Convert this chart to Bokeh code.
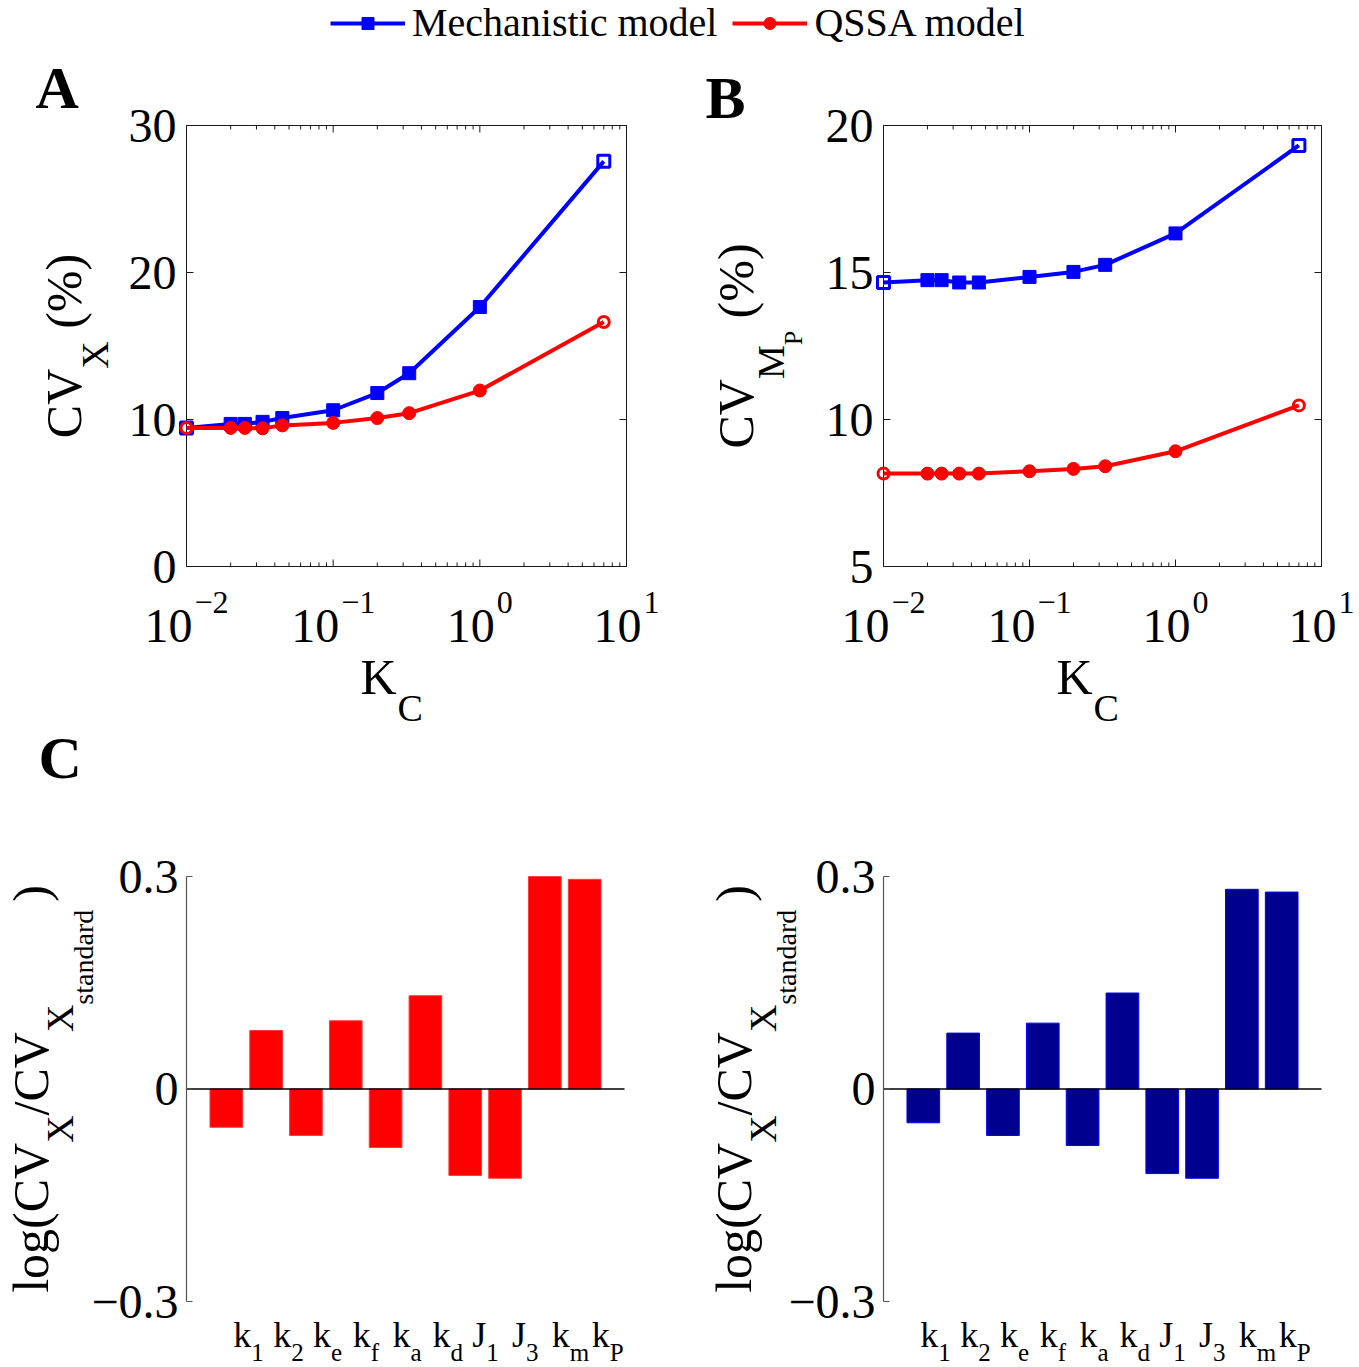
import math
from bokeh.plotting import figure
from bokeh.models import (Legend, LegendItem, Range1d, LogScale, LinearScale,
                          ColumnDataSource)
from bokeh.core.properties import value
from bokeh.embed import file_html
from bokeh.resources import INLINE

# ---------------- data ----------------
KC = [0.01, 0.02, 0.025, 0.033, 0.045, 0.1, 0.2, 0.33, 1.0, 7.0]
CVX_MECH = [9.43, 9.7, 9.7, 9.84, 10.1, 10.63, 11.8, 13.15, 17.65, 27.56]
CVX_QSSA = [9.43, 9.43, 9.43, 9.4, 9.6, 9.77, 10.1, 10.43, 11.97, 16.63]
CVMP_MECH = [14.66, 14.74, 14.74, 14.66, 14.66, 14.85, 15.02, 15.26, 16.33, 19.32]
CVMP_QSSA = [8.16, 8.16, 8.16, 8.16, 8.16, 8.24, 8.32, 8.41, 8.92, 10.48]

A_YTICKS = [0, 10, 20, 30]
B_YTICKS = [5, 10, 15, 20]
X_DECADES = [0.01, 0.1, 1, 10]
X_EXPONENTS = ["\u22122", "\u22121", "0", "1"]

PARAM_MAIN = ["k", "k", "k", "k", "k", "k", "J", "J", "k", "k"]
PARAM_SUB = ["1", "2", "e", "f", "a", "d", "1", "3", "m", "P"]
SENS_QSSA = [-0.054, 0.0826, -0.0656, 0.0963, -0.0826, 0.1317, -0.122, -0.126, 0.2999, 0.296]
SENS_MECH = [-0.0477, 0.0789, -0.0656, 0.093, -0.0798, 0.1355, -0.1194, -0.126, 0.2819, 0.278]
BAR_YTICKS = [-0.3, 0, 0.3]
BAR_YLABELS = ["\u22120.3", "0", "0.3"]

# ---------------- style / layout constants ----------------
W, H = 1359, 1367
BLUE = "#0000FF"
RED = "#FF0000"
NAVY = "#00008F"
FONT = "Liberation Serif"
AXC = "#1a1a1a"
MID = 0.3375  # distance (em) from alphabetic baseline to the 'middle' baseline
# panel plot rectangles on the page: (left, right, top, bottom) in pixels
FR_A = (186, 626, 125, 566)
FR_B = (883, 1321, 125, 566)
FR_C = (186, 624, 876, 1301)
FR_D = (883, 1321, 876, 1301)

# Times / Liberation Serif advance widths (1/1000 em)
WID = {'C': 667, 'V': 722, 'X': 722, 'K': 722, 'M': 889, 'P': 556, ' ': 250, '(': 333,
       '%': 833, ')': 333, 'l': 278, 'o': 500, 'g': 500, '/': 278, 's': 389, 't': 278,
       'a': 444, 'n': 500, 'd': 500, 'r': 333, '.': 250, '\u2212': 564, 'k': 500,
       'e': 444, 'f': 333, 'm': 778, 'J': 389}


def tw(s, size):
    return sum(WID.get(c, 500) for c in s) * size / 1000.0


def lin_range(v0, v1, p0, p1, total):
    s = (p1 - p0) / (v1 - v0)
    return Range1d(v0 - p0 / s, v0 + (total - p0) / s)


def log_range(v0, v1, p0, p1, total):
    l0, l1 = math.log10(v0), math.log10(v1)
    s = (p1 - p0) / (l1 - l0)
    return Range1d(10 ** (l0 - p0 / s), 10 ** (l0 + (total - p0) / s))


p = figure(width=W, height=H, x_range=Range1d(0, W), y_range=Range1d(0, H),
           output_backend="svg", toolbar_location=None, min_border=0,
           x_axis_location=None, y_axis_location=None)
p.outline_line_color = None
p.grid.visible = False
p.background_fill_color = "white"


def txt(xs, ys, texts, size, xr, yr, dx=0.0, dy=0.0, align="left",
        baseline="alphabetic", angle=0.0, bold=False):
    n = len(texts)
    dxs = list(dx) if isinstance(dx, (list, tuple)) else [dx] * n
    dys = list(dy) if isinstance(dy, (list, tuple)) else [dy] * n
    if baseline == "alphabetic":
        # place via the 'middle' baseline, shifted so the glyph baseline lands on the anchor
        baseline = "middle"
        sx = MID * size * math.sin(angle)
        sy = MID * size * math.cos(angle)
        dxs = [d - sx for d in dxs]
        dys = [d - sy for d in dys]
    src = ColumnDataSource(dict(x=list(xs), y=list(ys), t=list(texts), dx=dxs, dy=dys))
    p.text(x="x", y="y", text="t", x_offset="dx", y_offset="dy", source=src,
           text_font=value(FONT), text_font_size=value(f"{size}px"),
           text_align=align, text_baseline=baseline, angle=angle,
           text_font_style="bold" if bold else "normal", text_color="black",
           x_range_name=xr, y_range_name=yr)


def rotated_label(x, y, xr, yr, dx_base, parts):
    total = sum(g + tw(t, s) for t, s, d, g in parts)
    cur = -total / 2.0
    for t, s, d, g in parts:
        cur += g
        txt([x], [y], [t], s, xr, yr, dx=dx_base + d, dy=-cur, angle=math.pi / 2)
        cur += tw(t, s)


def ticks(xs, ys, angle, length, xr, yr, color=AXC):
    p.ray(x=list(xs), y=list(ys), length=length, length_units="screen", angle=angle,
          line_color=color, line_width=1, x_range_name=xr, y_range_name=yr)


def line_panel(key, frame, yticks, mech, qssa, letter, letter_off, ylab_parts, ylab_dx):
    L, R, T, B = frame
    xr, yr = key + "x", key + "y"
    xlo, xhi = X_DECADES[0], X_DECADES[-1]
    ylo, yhi = yticks[0], yticks[-1]
    p.extra_x_ranges[xr] = log_range(xlo, xhi, L, R, W)
    p.extra_x_scales[xr] = LogScale()
    p.extra_y_ranges[yr] = lin_range(ylo, yhi, H - B, H - T, H)
    p.extra_y_scales[yr] = LinearScale()

    # box and inward ticks
    p.quad(left=[xlo], right=[xhi], bottom=[ylo], top=[yhi], fill_color=None,
           line_color=AXC, line_width=1, x_range_name=xr, y_range_name=yr)
    ticks([xlo] * len(yticks), yticks, 0, 7, xr, yr)
    ticks([xhi] * len(yticks), yticks, math.pi, 7, xr, yr)
    ticks(X_DECADES, [ylo] * len(X_DECADES), math.pi / 2, 7, xr, yr)
    ticks(X_DECADES, [yhi] * len(X_DECADES), -math.pi / 2, 7, xr, yr)
    minors = [m * d for d in X_DECADES[:-1] for m in range(2, 10)]
    ticks(minors, [ylo] * len(minors), math.pi / 2, 4, xr, yr)
    ticks(minors, [yhi] * len(minors), -math.pi / 2, 4, xr, yr)

    # mechanistic (blue squares)
    ml = p.line(KC, mech, line_color=BLUE, line_width=4, x_range_name=xr, y_range_name=yr)
    ms = p.scatter(KC[1:-1], mech[1:-1], marker="square", size=13, fill_color=BLUE,
                   line_color=BLUE, x_range_name=xr, y_range_name=yr)
    p.scatter([KC[0], KC[-1]], [mech[0], mech[-1]], marker="square", size=12,
              fill_color=None, line_color=BLUE, line_width=3, x_range_name=xr, y_range_name=yr)
    # QSSA (red circles)
    ql = p.line(KC, qssa, line_color=RED, line_width=4, x_range_name=xr, y_range_name=yr)
    qs = p.scatter(KC[1:-1], qssa[1:-1], marker="circle", size=13, fill_color=RED,
                   line_color=RED, x_range_name=xr, y_range_name=yr)
    p.scatter([KC[0], KC[-1]], [qssa[0], qssa[-1]], marker="circle", size=11,
              fill_color=None, line_color=RED, line_width=3, x_range_name=xr, y_range_name=yr)

    # y tick labels
    txt([xlo] * len(yticks), yticks, [str(t) for t in yticks], 48, xr, yr, dx=-10,
        align="right", baseline="middle")
    # x tick labels 10^n
    w10 = tw("10", 48)
    dx_main, dx_exp = [], []
    for e in X_EXPONENTS:
        total = w10 + tw(e, 32) + 2
        dx_main.append(-total / 2 + w10)
        dx_exp.append(-total / 2 + w10 + 2)
    txt(X_DECADES, [ylo] * 4, ["10"] * 4, 48, xr, yr, dx=dx_main, dy=76, align="right")
    txt(X_DECADES, [ylo] * 4, X_EXPONENTS, 32, xr, yr, dx=dx_exp, dy=47)
    # x label K_C
    xc = math.sqrt(xlo * xhi)
    txt([xc], [ylo], ["K"], 50, xr, yr, dx=-46, dy=127)
    txt([xc], [ylo], ["C"], 38, xr, yr, dx=-46 + tw("K", 50) + 1, dy=154)
    # y label
    rotated_label(xlo, (ylo + yhi) / 2.0, xr, yr, ylab_dx, ylab_parts)
    # panel letter
    txt([xlo], [yhi], [letter], 60, xr, yr, dx=letter_off[0], dy=letter_off[1], bold=True)
    return ml, ms, ql, qs


def bar_panel(key, frame, vals, fill, edge, lab_dx, ylab_dx, letter=None):
    L, R, T, B = frame
    xr, yr = key + "x", key + "y"
    n = len(vals)
    pos = list(range(1, n + 1))
    xlo, xhi = 0, n + 1
    ylo, yhi = BAR_YTICKS[0], BAR_YTICKS[-1]
    p.extra_x_ranges[xr] = lin_range(xlo, xhi, L, R, W)
    p.extra_x_scales[xr] = LinearScale()
    p.extra_y_ranges[yr] = lin_range(ylo, yhi, H - B, H - T, H)
    p.extra_y_scales[yr] = LinearScale()

    p.vbar(x=pos, top=vals, bottom=0, width=0.82, fill_color=fill, line_color=edge,
           line_width=1, x_range_name=xr, y_range_name=yr)
    p.line([xlo, xhi], [0, 0], line_color="black", line_width=1.5,
           x_range_name=xr, y_range_name=yr)
    p.line([xlo, xlo], [ylo, yhi], line_color="#555555", line_width=1.2,
           x_range_name=xr, y_range_name=yr)
    ticks([xlo] * len(BAR_YTICKS), BAR_YTICKS, 0, 6, xr, yr, color="#555555")
    txt([xlo] * len(BAR_YTICKS), BAR_YTICKS, BAR_YLABELS, 48, xr, yr, dx=-8,
        align="right", baseline="middle")

    txt(pos, [ylo] * n, PARAM_MAIN, 36, xr, yr, dx=lab_dx, dy=46)
    txt(pos, [ylo] * n, PARAM_SUB, 25, xr, yr,
        dx=[lab_dx + tw(m, 36) for m in PARAM_MAIN], dy=59)

    parts = [("log(CV", 50, 0, 0), ("X", 38, 25, 0), ("/CV", 50, 0, 0), ("X", 38, 25, 0),
             ("standard", 28, 45, 0), (")", 50, 0, 8)]
    rotated_label(xlo, (ylo + yhi) / 2.0, xr, yr, ylab_dx, parts)
    if letter:
        txt([xlo], [yhi], [letter], 60, xr, yr, dx=-148, dy=-98, bold=True)


rA = line_panel("a", FR_A, A_YTICKS, CVX_MECH, CVX_QSSA, "A", (-151, -17),
                [("CV", 50, 0, 0), ("X", 38, 27, 0), ("(%)", 50, 0, 12.5)], -106)
line_panel("b", FR_B, B_YTICKS, CVMP_MECH, CVMP_QSSA, "B", (-178, -7),
           [("CV", 50, 0, 0), ("M", 38, 31, 0), ("P", 26, 50, 0), ("(%)", 50, 0, 12.5)],
           -131)
bar_panel("c", FR_C, SENS_QSSA, RED, "#ff3a3a", 7, -139, letter="C")
bar_panel("d", FR_D, SENS_MECH, NAVY, BLUE, -3, -133)

legend = Legend(items=[LegendItem(label="Mechanistic model", renderers=[rA[0], rA[1]]),
                       LegendItem(label="QSSA model", renderers=[rA[2], rA[3]])],
                orientation="horizontal", location=(330, H - 46), glyph_width=75,
                glyph_height=30, label_standoff=7, spacing=15, padding=0, margin=0,
                border_line_color=None, background_fill_alpha=0, label_text_font=FONT,
                label_text_font_size="40px", label_text_color="black", label_height=30)
p.add_layout(legend, "center")

open("out.html", "w").write(file_html(p, INLINE))
